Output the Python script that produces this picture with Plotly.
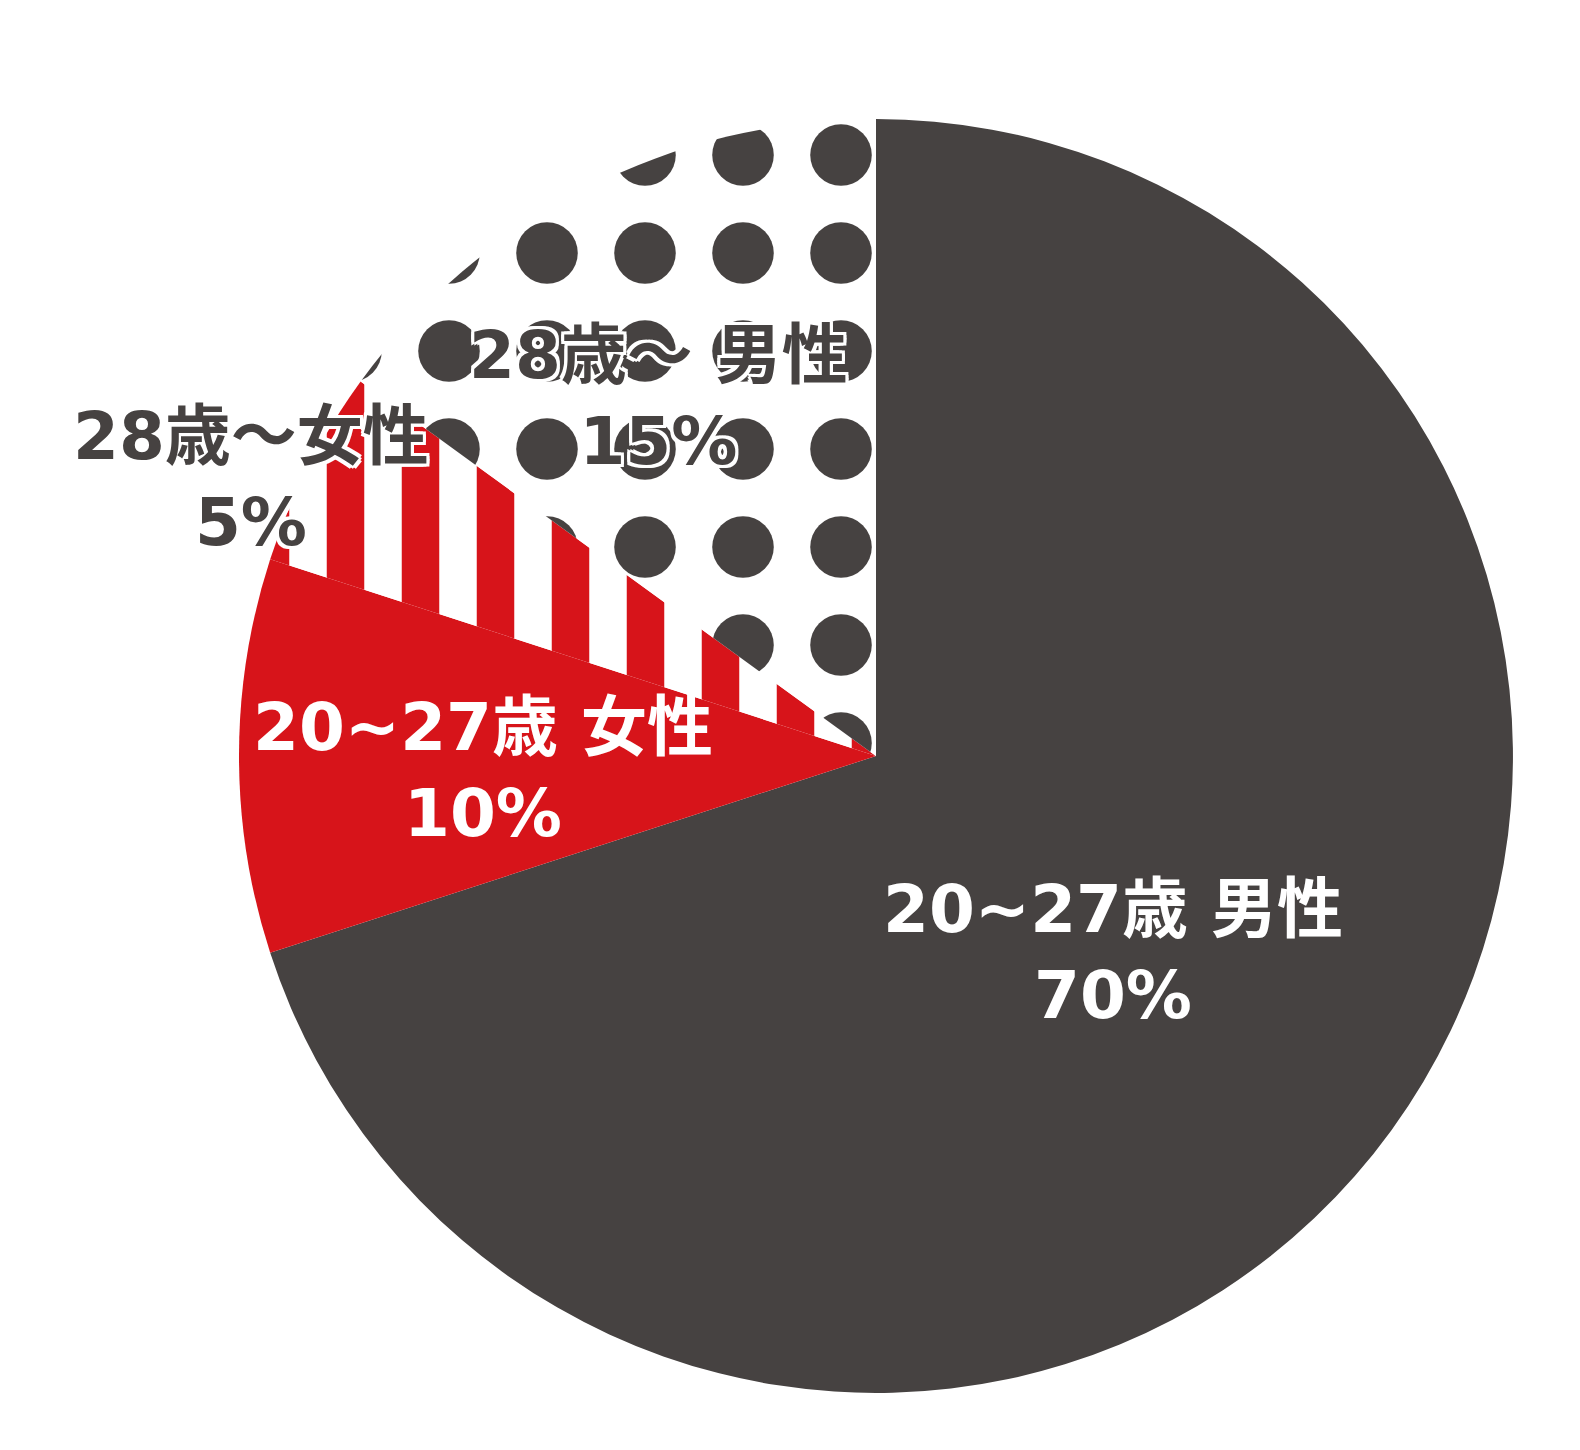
import plotly.graph_objects as go

# slice data, clockwise from 12 o'clock
labels = ["20~27歳 男性", "20~27歳 女性", "28歳～女性", "28歳～ 男性"]
values = [70, 10, 5, 15]
percent_text = ["70%", "10%", "5%", "15%"]

# label placement (paper coords) for each slice
label_x = [0.6994, 0.3006, 0.1535, 0.4120]
label_y = [0.3483, 0.4738, 0.6745, 0.7310]

dark = "#464241"
red = "#d7141a"

slice_colors = [dark, red, red, "white"]
text_colors = ["white", "white", dark, dark]
outline = "3px 3px 0 white, -3px -3px 0 white, 3px -3px 0 white, -3px 3px 0 white, 0 3px 0 white, 0 -3px 0 white, 3px 0 0 white, -3px 0 0 white"
text_shadows = ["none", "none", outline, outline]

fig = go.Figure()
fig.add_trace(go.Pie(
    labels=labels,
    values=values,
    sort=False,
    direction="clockwise",
    rotation=0,
    textinfo="none",
    marker=dict(
        colors=slice_colors,
        line=dict(width=0),
        pattern=dict(
            shape=["", "", "|", "."],
            fgcolor=[dark, red, red, dark],
            bgcolor=[dark, red, "white", "white"],
            size=[10, 10, 75, 98],
            solidity=[0.5, 0.5, 0.5, 0.31],
            fillmode="replace",
        ),
    ),
    hoverinfo="skip",
    showlegend=False,
    domain=dict(x=[0.1462, 0.9525], y=[0.0448, 0.9235]),
))

for lab, pct, x, y, col, sh in zip(labels, percent_text, label_x, label_y, text_colors, text_shadows):
    fig.add_annotation(
        x=x, y=y, xref="paper", yref="paper",
        text=f"{lab}<br>{pct}",
        showarrow=False,
        xanchor="center", yanchor="middle",
        align="center",
        font=dict(family="DejaVu Sans, Noto Sans CJK JP", size=66, color=col, weight="bold", shadow=sh),
    )

fig.update_layout(
    width=1580,
    height=1450,
    margin=dict(l=0, r=0, t=0, b=0),
    paper_bgcolor="white",
    plot_bgcolor="white",
)

fig.write_html("out.html")
